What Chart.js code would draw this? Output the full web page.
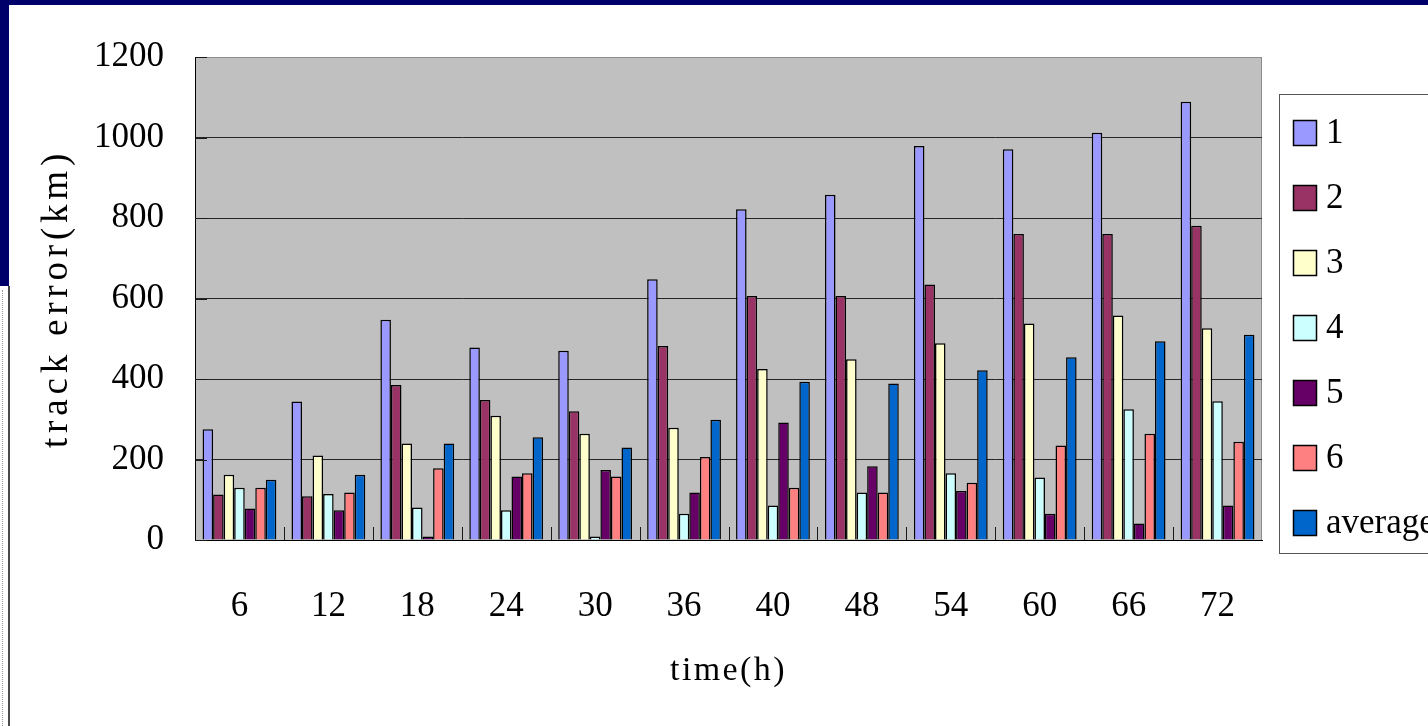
<!DOCTYPE html>
<html>
<head>
<meta charset="utf-8">
<title>track error</title>
<script src="https://cdn.jsdelivr.net/npm/chart.js@4.4.1/dist/chart.umd.min.js"></script>
<style>
  html, body { margin: 0; padding: 0; background: #ffffff; }
  body { width: 1428px; height: 726px; position: relative; overflow: hidden; }
  .band-top { position: absolute; left: 0; top: 0; width: 1428px; height: 5px; background: #00006a; }
  .band-left { position: absolute; left: 0; top: 0; width: 9px; height: 286px; background: #00006a; }
  .edge-left { position: absolute; left: 8px; top: 286px; width: 2px; height: 440px; background: #4a4a4a; }
  .dots-left { position: absolute; left: 2px; top: 290px; width: 0; height: 436px; border-left: 1px dotted #9a9a9a; }
  .panel { position: absolute; left: 10px; top: 5px; width: 1418px; height: 721px; background: #ffffff; }
</style>
</head>
<body>
<div class="band-top"></div>
<div class="band-left"></div>
<div class="edge-left"></div>
<div class="dots-left"></div>
<div class="panel"><canvas id="c" width="1418" height="721"></canvas></div>
<script>
// forecast lead times (hours)
const categories = ['6', '12', '18', '24', '30', '36', '40', '48', '54', '60', '66', '72'];

// track error per scheme (km)
const scheme1 = [275, 344, 547, 478, 470, 648, 822, 858, 979, 971, 1012, 1089];
const scheme2 = [113, 109, 385, 348, 320, 482, 606, 606, 635, 760, 760, 781];
const scheme3 = [162, 210, 240, 309, 264, 279, 425, 449, 489, 538, 558, 526];
const scheme4 = [130, 114, 81, 74, 9, 65, 86, 118, 166, 155, 325, 345];
const scheme5 = [78, 74, 9, 158, 174, 118, 292, 183, 122, 65, 41, 86];
const scheme6 = [130, 118, 178, 166, 158, 206, 130, 118, 142, 235, 264, 244];
const average = [150, 162, 240, 255, 230, 299, 393, 389, 422, 454, 494, 510];

const seriesNames = ['1', '2', '3', '4', '5', '6', 'average'];
const yTicks = [0, 200, 400, 600, 800, 1000, 1200];

const palette = ['#9999ff', '#993366', '#ffffcc', '#ccffff', '#660066', '#ff8080', '#0066cc'];
const seriesData = [scheme1, scheme2, scheme3, scheme4, scheme5, scheme6, average];

const serif = "'Liberation Serif', 'DejaVu Serif', serif";
const numFont = { family: serif, size: 35 };
const titleFontX = { family: serif, size: 34 };
const titleFontY = { family: serif, size: 37 };
// extra spacing between title letters, per axis
const titleSpacing = { x: 2.4, y: 4.8 };

// grey plot area with a light frame on the top and right sides
const plotFrame = {
  id: 'plotFrame',
  beforeDraw(chart) {
    const { ctx, chartArea: a } = chart;
    ctx.save();
    ctx.fillStyle = '#c0c0c0';
    ctx.fillRect(a.left, a.top, a.right - a.left, a.bottom - a.top);
    ctx.strokeStyle = '#8c8c8c';
    ctx.lineWidth = 1;
    ctx.beginPath();
    ctx.moveTo(a.left, a.top + 0.5);
    ctx.lineTo(a.right - 0.5, a.top + 0.5);
    ctx.lineTo(a.right - 0.5, a.bottom);
    ctx.stroke();
    ctx.restore();
  }
};

// spaced-out axis titles
const spacedTitles = {
  id: 'spacedTitles',
  beforeDraw(chart) {
    Object.values(chart.scales).forEach(scale => {
      if (scale._spacedTitle) return;
      const orig = scale.drawTitle;
      const sp = titleSpacing[scale.id] || 0;
      scale.drawTitle = function () {
        const ctx = this.ctx;
        const prev = ctx.letterSpacing;
        ctx.letterSpacing = sp + 'px';
        orig.apply(this, arguments);
        ctx.letterSpacing = prev || '0px';
      };
      scale._spacedTitle = true;
    });
  }
};

// short tick marks pointing into the plot
const innerTicks = {
  id: 'innerTicks',
  afterDatasetsDraw(chart) {
    const { ctx, chartArea: a, scales } = chart;
    ctx.save();
    ctx.strokeStyle = '#1a1a1a';
    ctx.lineWidth = 1;
    ctx.beginPath();
    const n = categories.length;
    const step = (a.right - a.left) / n;
    for (let i = 1; i < n; i++) {
      const x = Math.round(a.left + i * step) + 0.5;
      ctx.moveTo(x, a.bottom);
      ctx.lineTo(x, a.bottom - 13);
    }
    yTicks.forEach(v => {
      const y = Math.round(scales.y.getPixelForValue(v)) + 0.5;
      ctx.moveTo(a.left, y);
      ctx.lineTo(a.left + 12, y);
    });
    ctx.stroke();
    ctx.restore();
  }
};

// legend box on the right
const sideLegend = {
  id: 'sideLegend',
  afterDraw(chart) {
    const { ctx } = chart;
    const boxX = 1269, boxY = 89, boxW = 200, boxH = 459;
    ctx.save();
    ctx.fillStyle = '#ffffff';
    ctx.fillRect(boxX, boxY, boxW, boxH);
    ctx.strokeStyle = '#555555';
    ctx.lineWidth = 1;
    ctx.strokeRect(boxX + 0.5, boxY + 0.5, boxW, boxH);
    ctx.font = `${numFont.size}px ${numFont.family}`;
    ctx.textBaseline = 'middle';
    ctx.textAlign = 'left';
    chart.data.datasets.forEach((ds, i) => {
      const cy = 128 + i * 65;
      ctx.fillStyle = ds.backgroundColor;
      ctx.fillRect(1283, cy - 13, 24, 26);
      ctx.strokeStyle = '#000000';
      ctx.lineWidth = 1.5;
      ctx.strokeRect(1283.5, cy - 12.5, 23, 25);
      ctx.fillStyle = '#000000';
      ctx.fillText(ds.label, 1316, cy + 1);
    });
    ctx.restore();
  }
};

const datasets = seriesNames.map((name, i) => ({
  label: name,
  data: seriesData[i],
  backgroundColor: palette[i],
  borderColor: '#000000',
  borderWidth: 1.5,
  borderSkipped: 'bottom',
  categoryPercentage: 0.83,
  barPercentage: 1.0
}));

new Chart(document.getElementById('c'), {
  type: 'bar',
  data: { labels: categories, datasets },
  plugins: [plotFrame, spacedTitles, innerTicks, sideLegend],
  options: {
    responsive: false,
    animation: false,
    events: [],
    layout: { padding: { left: 0, top: 51, right: 166, bottom: 0 } },
    plugins: {
      legend: { display: false },
      tooltip: { enabled: false }
    },
    scales: {
      x: {
        grid: { display: false, drawTicks: false },
        border: { display: true, color: '#000000', width: 1 },
        ticks: { color: '#000000', font: numFont, padding: 46, maxRotation: 0, autoSkip: false },
        title: { display: true, text: 'time(h)', color: '#000000', font: titleFontX, padding: 35 },
        afterFit(scale) { scale.height = 186; }
      },
      y: {
        min: 0,
        max: 1200,
        afterBuildTicks(scale) { scale.ticks = yTicks.map(v => ({ value: v })); },
        grid: {
          drawTicks: false,
          color: c => (c.tick && c.tick.value === 1200 ? '#8c8c8c' : '#262626'),
          lineWidth: 1
        },
        border: { display: true, color: '#000000', width: 1 },
        ticks: { color: '#000000', font: numFont, padding: 31, callback: v => String(v) },
        title: { display: true, text: 'track error(km)', color: '#000000', font: titleFontY, padding: 25 },
        afterFit(scale) { scale.width = 185; }
      }
    }
  }
});
</script>
</body>
</html>
